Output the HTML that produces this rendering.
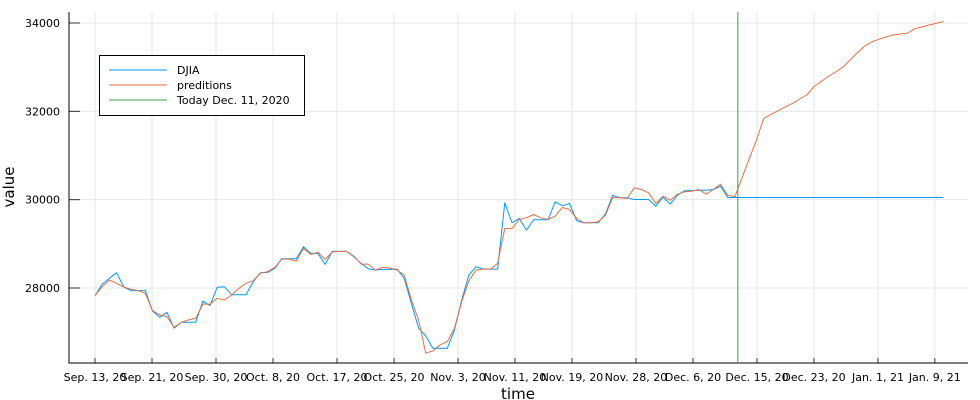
<!DOCTYPE html>
<html><head><meta charset="utf-8"><style>
html,body{margin:0;padding:0;background:#fff;}
svg{display:block;font-family:"DejaVu Sans","Liberation Sans",sans-serif;}
</style></head><body>
<svg id="chart" width="980" height="400" viewBox="0 0 980 400" xmlns="http://www.w3.org/2000/svg">
<g id="grid"></g>
<g id="axes"></g>
<g id="series"></g>
<text x="518" y="399" font-size="15" text-anchor="middle" fill="#000">time</text>
<text x="0" y="0" font-size="15" text-anchor="middle" fill="#000" transform="translate(14,187) rotate(-90)">value</text>
<g>
<rect x="99.5" y="55.5" width="205" height="60" fill="#fff" stroke="#000" stroke-width="1"/>
<line x1="109" y1="70" x2="167" y2="70" stroke="#009af9" stroke-width="1"/>
<text x="177" y="74" font-size="11">DJIA</text>
<line x1="109" y1="85" x2="167" y2="85" stroke="#e26f46" stroke-width="1"/>
<text x="177" y="89" font-size="11">preditions</text>
<line x1="109" y1="100" x2="167" y2="100" stroke="#3ea44e" stroke-width="1"/>
<text x="177" y="104" font-size="11">Today Dec. 11, 2020</text>
</g>
</svg>
<script>
const djiaValues = [27827,28083,28219,28347,28023,27940,27940,27940,27480,27337,27450,27089,27224,27224,27224,27706,27601,28015,28030,27849,27849,27849,28143,28347,28354,28444,28663,28663,28663,28934,28783,28783,28535,28829,28829,28829,28708,28557,28437,28407,28422,28422,28429,28219,27654,27089,26915,26636,26636,26636,27051,27729,28294,28482,28429,28429,28429,29928,29477,29575,29311,29545,29545,29545,29951,29861,29914,29522,29477,29477,29477,29680,30102,30042,30042,30004,30004,30004,29853,30056,29899,30102,30200,30200,30215,30215,30230,30305,30049,30049,30049,30049,30049,30049,30049,30049,30049,30049,30049,30049,30049,30049,30049,30049,30049,30049,30049,30049,30049,30049,30049,30049,30049,30049,30049,30049,30049,30049,30049];
const predValues = [27827,28030,28181,28106,28023,27970,27940,27880,27488,27390,27352,27111,27224,27277,27315,27638,27630,27766,27729,27842,27992,28106,28166,28332,28369,28467,28655,28655,28610,28897,28761,28806,28648,28814,28829,28829,28723,28542,28542,28407,28467,28452,28407,28294,27729,27277,26523,26576,26712,26787,27089,27691,28166,28407,28429,28429,28557,29349,29349,29552,29590,29665,29590,29552,29627,29823,29778,29575,29477,29477,29500,29650,30049,30042,30027,30268,30230,30155,29914,30079,29989,30124,30177,30192,30230,30124,30230,30350,30102,30064,30500,30930,31350,31840,31930,32015,32100,32180,32280,32370,32560,32675,32790,32890,33000,33160,33320,33470,33570,33630,33680,33730,33750,33770,33870,33910,33955,33990,34035];
const todayDay = 89.4;
const yTicks = [28000,30000,32000,34000];
const xTickDays = [0,7.93,16.83,24.76,33.66,41.59,50.49,58.41,66.34,75.24,83.17,92.07,100,108.9,116.8];
const xTickLabels = ["Sep. 13, 20","Sep. 21, 20","Sep. 30, 20","Oct. 8, 20","Oct. 17, 20","Oct. 25, 20","Nov. 3, 20","Nov. 11, 20","Nov. 19, 20","Nov. 28, 20","Dec. 6, 20","Dec. 15, 20","Dec. 23, 20","Jan. 1, 21","Jan. 9, 21"];

const NS="http://www.w3.org/2000/svg";
const L=69,R=968,T=12,B=363;
function xs(d){return 95+d*7.19;}
function ys(v){return 288-(v-28000)*(265/6000);}
function mk(tag,attrs,parent){const e=document.createElementNS(NS,tag);for(const k in attrs)e.setAttribute(k,attrs[k]);parent.appendChild(e);return e;}
const grid=document.getElementById('grid'),axes=document.getElementById('axes'),series=document.getElementById('series');
xTickDays.forEach((d,i)=>{
  const x=xs(d);
  const g=mk('line',{x1:x,y1:T,x2:x,y2:B,stroke:'#e6e6e6','stroke-width':1},grid);
  
  
  const t=mk('line',{x1:x,y1:B,x2:x,y2:B-5,stroke:'#333','stroke-width':1},axes);
  
  
  const lb=mk('text',{x:x,y:381,'font-size':11,'text-anchor':'middle',fill:'#000'},axes);
  lb.textContent=xTickLabels[i];
  
  
});
yTicks.forEach(v=>{
  const y=ys(v);
  const g=mk('line',{x1:L,y1:y,x2:R,y2:y,stroke:'#e6e6e6','stroke-width':1},grid);
  
  
  const t=mk('line',{x1:L,y1:y,x2:L+11,y2:y,stroke:'#333','stroke-width':1},axes);
  
  
  const lb=mk('text',{x:60,y:y+4,'font-size':11,'text-anchor':'end',fill:'#000'},axes);
  lb.textContent=String(v);
  
  
});
const ax=mk('path',{d:`M${L},${T} V${B} H${R}`,fill:'none',stroke:'#000','stroke-width':1},axes);


function line(vals,color,name){
  const d=vals.map((v,i)=>(i?'L':'M')+xs(i).toFixed(1)+','+ys(v).toFixed(1)).join(' ');
  const p=mk('path',{d:d,fill:'none',stroke:color,'stroke-width':1,'stroke-linejoin':'round'},series);
  
  
}
line(djiaValues,'#009af9','djia-line');
line(predValues,'#e26f46','predictions-line');
const tl=mk('line',{x1:xs(todayDay),y1:T,x2:xs(todayDay),y2:B,stroke:'#3ea44e','stroke-width':1.3,'stroke-opacity':0.8},series);


</script>
</body></html>
